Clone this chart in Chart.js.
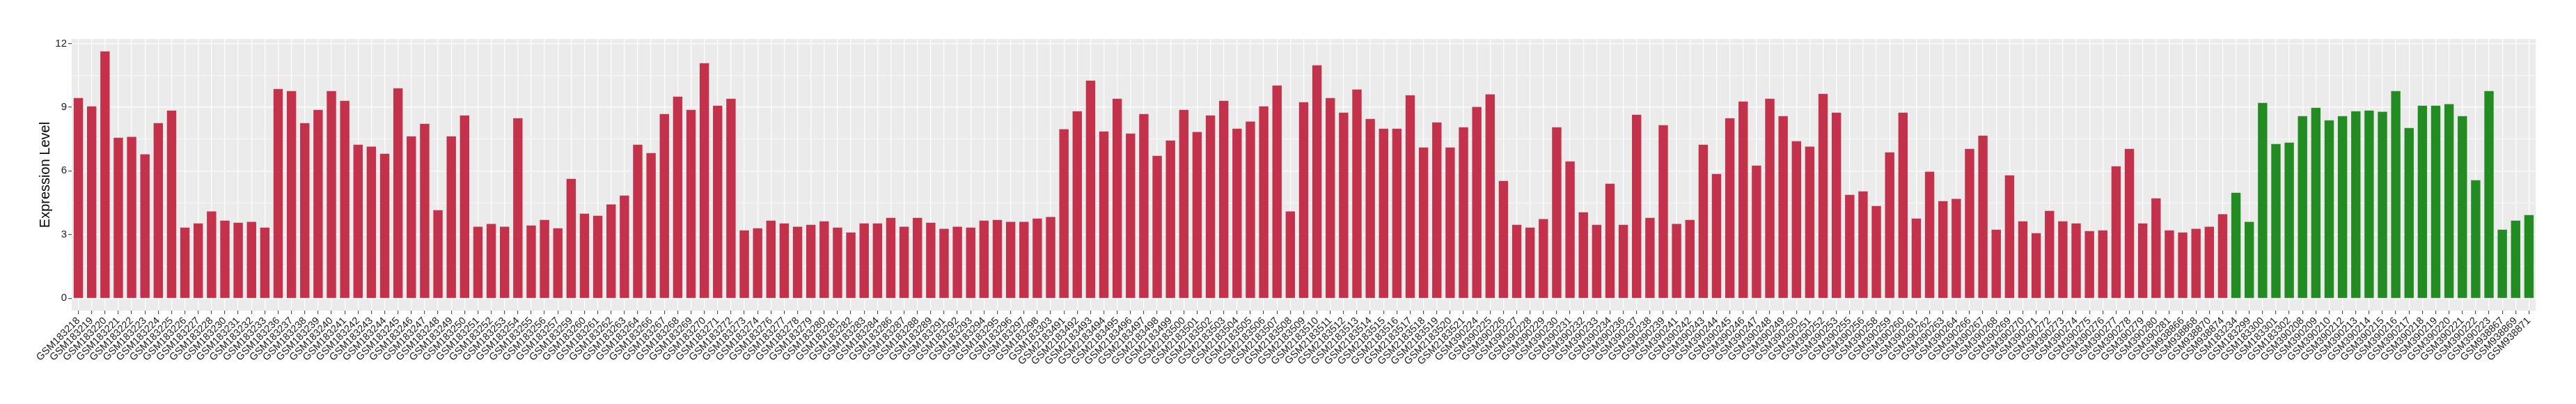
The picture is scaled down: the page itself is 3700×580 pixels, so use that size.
<!DOCTYPE html>
<html>
<head>
<meta charset="utf-8">
<script src="https://cdn.jsdelivr.net/npm/chart.js@4/dist/chart.umd.min.js"></script>
<style>
  html, body { margin: 0; padding: 0; background: #fff; }
  #wrap { width: 3700px; height: 580px; }
</style>
</head>
<body>
<div id="wrap"><canvas id="chart" width="3700" height="580"></canvas></div>
<script>
// ----------------------
// Data
// ----------------------
const tumorSamples = [
  'GSM183218','GSM183219','GSM183220','GSM183221','GSM183222','GSM183223','GSM183224','GSM183225','GSM183226','GSM183227',
  'GSM183228','GSM183230','GSM183231','GSM183232','GSM183233','GSM183236','GSM183237','GSM183238','GSM183239','GSM183240',
  'GSM183241','GSM183242','GSM183243','GSM183244','GSM183245','GSM183246','GSM183247','GSM183248','GSM183249','GSM183250',
  'GSM183251','GSM183252','GSM183253','GSM183254','GSM183255','GSM183256','GSM183257','GSM183259','GSM183260','GSM183261',
  'GSM183262','GSM183263','GSM183264','GSM183266','GSM183267','GSM183268','GSM183269','GSM183270','GSM183271','GSM183272',
  'GSM183273','GSM183274','GSM183276','GSM183277','GSM183278','GSM183279','GSM183280','GSM183281','GSM183282','GSM183283',
  'GSM183284','GSM183286','GSM183287','GSM183288','GSM183289','GSM183291','GSM183292','GSM183293','GSM183294','GSM183295',
  'GSM183296','GSM183297','GSM183298','GSM183303',
  'GSM2183491','GSM2183492','GSM2183493','GSM2183494','GSM2183495','GSM2183496','GSM2183497','GSM2183498','GSM2183499','GSM2183500',
  'GSM2183501','GSM2183502','GSM2183503','GSM2183504','GSM2183505','GSM2183506','GSM2183507','GSM2183508','GSM2183509','GSM2183510',
  'GSM2183511','GSM2183512','GSM2183513','GSM2183514','GSM2183515','GSM2183516','GSM2183517','GSM2183518','GSM2183519','GSM2183520',
  'GSM2183521',
  'GSM390224','GSM390225','GSM390226','GSM390227','GSM390228','GSM390229','GSM390230','GSM390231','GSM390232','GSM390233',
  'GSM390234','GSM390236','GSM390237','GSM390238','GSM390239','GSM390241','GSM390242','GSM390243','GSM390244','GSM390245',
  'GSM390246','GSM390247','GSM390248','GSM390249','GSM390250','GSM390251','GSM390252','GSM390253','GSM390255','GSM390256',
  'GSM390258','GSM390259','GSM390260','GSM390261','GSM390262','GSM390263','GSM390264','GSM390266','GSM390267','GSM390268',
  'GSM390269','GSM390270','GSM390271','GSM390272','GSM390273','GSM390274','GSM390275','GSM390276','GSM390277','GSM390278',
  'GSM390279','GSM390280','GSM390281',
  'GSM938866','GSM938868','GSM938870','GSM938874'
];
const tumorValues = [
  9.43, 9.04, 11.63, 7.56, 7.60, 6.78, 8.25, 8.84, 3.33, 3.53,
  4.09, 3.66, 3.56, 3.60, 3.33, 9.86, 9.76, 8.25, 8.87, 9.76,
  9.30, 7.23, 7.14, 6.81, 9.89, 7.63, 8.22, 4.15, 7.63, 8.61,
  3.37, 3.50, 3.37, 8.48, 3.43, 3.69, 3.30, 5.63, 3.99, 3.89,
  4.42, 4.84, 7.23, 6.84, 8.68, 9.50, 8.87, 11.07, 9.07, 9.40,
  3.20, 3.30, 3.66, 3.53, 3.37, 3.46, 3.63, 3.33, 3.10, 3.53,
  3.53, 3.79, 3.37, 3.79, 3.56, 3.27, 3.37, 3.33, 3.66, 3.69,
  3.60, 3.60, 3.76, 3.83,
  7.96, 8.81, 10.25, 7.86, 9.40, 7.76, 8.68, 6.71, 7.43, 8.87,
  7.83, 8.61, 9.30, 7.99, 8.32, 9.04, 10.02, 4.09, 9.23, 10.97,
  9.43, 8.74, 9.83, 8.45, 7.99, 7.99, 9.56, 7.10, 8.28, 7.10,
  8.05,
  9.01, 9.60, 5.53, 3.46, 3.33, 3.73, 8.05, 6.45, 4.05, 3.46,
  5.40, 3.46, 8.64, 3.79, 8.15, 3.50, 3.69, 7.23, 5.86, 8.48,
  9.27, 6.25, 9.40, 8.58, 7.40, 7.14, 9.63, 8.74, 4.87, 5.04,
  4.35, 6.87, 8.74, 3.76, 5.96, 4.58, 4.68, 7.04, 7.66, 3.23,
  5.79, 3.63, 3.07, 4.12, 3.63, 3.53, 3.17, 3.20, 6.22, 7.04,
  3.53, 4.71, 3.20,
  3.10, 3.27, 3.37, 3.96
];
const normalSamples = [
  'GSM183234','GSM183299','GSM183300','GSM183301','GSM183302',
  'GSM390208','GSM390209','GSM390210','GSM390212','GSM390213','GSM390214','GSM390215','GSM390216','GSM390217','GSM390218',
  'GSM390219','GSM390220','GSM390221','GSM390222','GSM390223',
  'GSM938867','GSM938869','GSM938871'
];
const normalValues = [
  4.97, 3.60, 9.20, 7.27, 7.33,
  8.58, 8.97, 8.38, 8.58, 8.81, 8.84, 8.78, 9.76, 8.02, 9.07,
  9.07, 9.14, 8.58, 5.56, 9.76,
  3.23, 3.66, 3.92
];
const yTicks = [0, 1.5, 3, 4.5, 6, 7.5, 9, 10.5, 12];
const yLabelled = [0, 3, 6, 9, 12];

const tumorColor = '#c3314a';
const normalColor = '#228b22';
const fontFamily = '"Liberation Sans", Arial, Helvetica, sans-serif';

const labels = tumorSamples.concat(normalSamples);
const values = tumorValues.concat(normalValues);
const colors = tumorSamples.map(() => tumorColor).concat(normalSamples.map(() => normalColor));

// grey panel behind the grid, white page behind everything
const panelBg = {
  id: 'panelBg',
  beforeDraw(chart) {
    const { ctx, chartArea: a } = chart;
    ctx.save();
    ctx.fillStyle = '#ffffff';
    ctx.fillRect(0, 0, chart.width, chart.height);
    ctx.fillStyle = '#ebebeb';
    ctx.fillRect(a.left, a.top, a.right - a.left, a.bottom - a.top);
    ctx.restore();
  }
};

new Chart(document.getElementById('chart'), {
  type: 'bar',
  data: {
    labels,
    datasets: [{
      data: values,
      backgroundColor: colors,
      borderWidth: 0,
      barPercentage: 0.7,
      categoryPercentage: 1
    }]
  },
  options: {
    responsive: false,
    animation: false,
    devicePixelRatio: 1,
    layout: { padding: { top: 56, right: 58, left: 0, bottom: 0 } },
    plugins: { legend: { display: false }, tooltip: { enabled: false } },
    scales: {
      x: {
        offset: true,
        grid: { offset: false, color: '#ffffff', lineWidth: 1.3, tickColor: '#333333', tickLength: 5, tickWidth: 1 },
        border: { display: false },
        ticks: {
          autoSkip: false, minRotation: 45, maxRotation: 45, padding: 1,
          color: '#1a1a1a', font: { family: fontFamily, size: 14.5 }
        },
        afterFit: s => { s.height = 134; }
      },
      y: {
        min: -0.58,
        max: 12.21,
        afterBuildTicks: s => { s.ticks = yTicks.map(v => ({ value: v })); },
        grid: {
          color: '#ffffff',
          lineWidth: c => yLabelled.includes(c.tick && c.tick.value) ? 1.3 : 0.65,
          tickColor: c => yLabelled.includes(c.tick && c.tick.value) ? '#333333' : 'rgba(0,0,0,0)',
          tickLength: 5,
          tickWidth: 1
        },
        border: { display: false },
        ticks: {
          padding: 2,
          color: '#1a1a1a',
          font: { family: fontFamily, size: 15 },
          callback: v => yLabelled.includes(v) ? String(v) : ''
        },
        title: {
          display: true,
          text: 'Expression Level',
          color: '#000000',
          font: { family: fontFamily, size: 20 },
          padding: { top: 53, bottom: 0 }
        },
        afterFit: s => { s.width = 103; }
      }
    }
  },
  plugins: [panelBg]
});
</script>
</body>
</html>
